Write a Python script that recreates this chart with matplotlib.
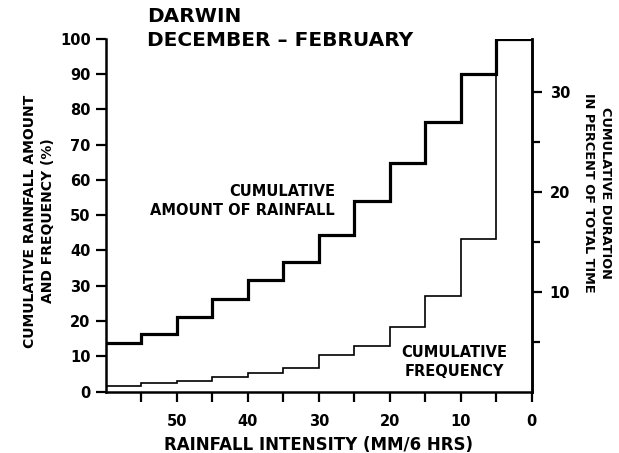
import matplotlib
matplotlib.use("Agg")
import matplotlib.pyplot as plt
from matplotlib.ticker import MultipleLocator, FixedLocator

# Data
intensity_edges = [60, 55, 50, 45, 40, 35, 30, 25, 20, 15, 10, 5, 0]
amount = [13.9, 16.4, 21.2, 26.2, 31.6, 36.7, 44.4, 54.1, 64.9, 76.3, 90.0, 100.0]
frequency = [1.7, 2.4, 3.0, 4.1, 5.4, 6.8, 10.3, 12.9, 18.3, 27.2, 43.3, 100.0]
x_tick_values = list(range(55, -1, -5))
left_ticks = [0, 10, 20, 30, 40, 50, 60, 70, 80, 90, 100]
right_major = [10, 20, 30]
right_minor = [5, 15, 25]

plt.rcParams['font.family'] = ['DejaVu Sans']
plt.rcParams['font.weight'] = 'bold'

fig = plt.figure(figsize=(6.19, 4.53), dpi=100)
ax = fig.add_axes([0.171, 0.1353, 0.688, 0.7793])

ax.step(intensity_edges, amount + [amount[-1]], where='post', color='black', lw=2.3,
        solid_joinstyle='miter')
ax.step(intensity_edges, frequency + [frequency[-1]], where='post', color='black', lw=1.2,
        solid_joinstyle='miter')

ax.set_xlim(60, 0)
ax.set_ylim(0, 100)

ax.spines['top'].set_visible(False)
for s in ['left', 'bottom', 'right']:
    ax.spines[s].set_linewidth(1.8)

ax.set_yticks(left_ticks)
ax.set_yticklabels([str(v) for v in left_ticks])
ax.set_xticks(x_tick_values)
ax.set_xticklabels(["" if v % 10 else str(v) for v in x_tick_values])
ax.tick_params(axis='y', direction='out', length=7, width=1.6, labelsize=10.5, pad=4, right=False)
ax.tick_params(axis='x', direction='out', length=7, width=1.6, labelsize=10.5, pad=9)
for lab in ax.get_xticklabels() + ax.get_yticklabels():
    lab.set_fontweight('bold')

ax2 = ax.twinx()
ax2.set_ylim(0, 35.3)
ax2.yaxis.set_major_locator(FixedLocator(right_major))
ax2.yaxis.set_minor_locator(FixedLocator(right_minor))
ax2.set_yticklabels([str(v) for v in right_major])
ax2.tick_params(axis='y', which='major', direction='out', length=7, width=1.6, labelsize=10.5, pad=6)
ax2.tick_params(axis='y', which='minor', direction='out', length=6, width=1.6)
for lab in ax2.get_yticklabels():
    lab.set_fontweight('bold')
for s in ['top', 'left', 'bottom']:
    ax2.spines[s].set_visible(False)
ax2.spines['right'].set_linewidth(1.8)

ax.set_xlabel("RAINFALL INTENSITY (MM/6 HRS)", fontsize=12, fontweight='bold', labelpad=5)
fig.text(39/619, 1 - 221/453, "CUMULATIVE RAINFALL AMOUNT\nAND FREQUENCY (%)", fontsize=10,
         fontweight='bold', rotation=90, ha='center', va='center', multialignment='center',
         linespacing=1.45)
fig.text(597/619, 1 - 193/453, "CUMULATIVE DURATION\nIN PERCENT OF TOTAL TIME", fontsize=9.3,
         fontweight='bold', rotation=-90, ha='center', va='center', multialignment='center',
         linespacing=1.35)

fig.text(147/619, 1 - 17/453, "DARWIN", fontsize=14.5, fontweight='bold', va='center', ha='left')
fig.text(147/619, 1 - 41/453, "DECEMBER \u2013 FEBRUARY", fontsize=14.5, fontweight='bold',
         va='center', ha='left')

fig.text(335/619, 1 - 201/453, "CUMULATIVE\nAMOUNT OF RAINFALL", fontsize=10.5, fontweight='bold',
         ha='right', va='center', multialignment='right', linespacing=1.3)
fig.text(454/619, 1 - 362/453, "CUMULATIVE\nFREQUENCY", fontsize=10.5, fontweight='bold',
         ha='center', va='center', multialignment='center', linespacing=1.3)

fig.savefig("out.png", dpi=100)
